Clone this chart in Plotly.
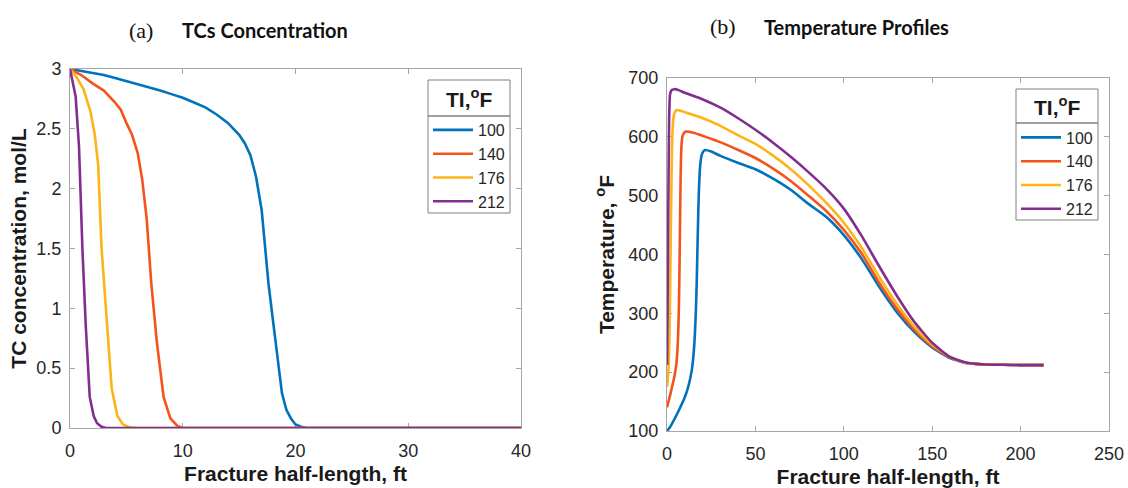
import plotly.graph_objects as go

# ---- (a) TC concentration along the fracture, one curve per injection temperature ----
conc_x_100 = [0, 1, 2, 3, 4, 5, 6, 7, 8, 9, 10, 11, 12, 13, 14, 15, 15.5, 16, 16.5, 17,
              17.3, 17.6, 18, 18.4, 18.8, 19.2, 19.6, 20, 20.5, 21, 22, 40]
conc_y_100 = [3, 2.985, 2.97, 2.95, 2.925, 2.9, 2.875, 2.85, 2.82, 2.79, 2.76, 2.72, 2.68, 2.62,
              2.55, 2.45, 2.38, 2.28, 2.1, 1.82, 1.5, 1.21, 0.9, 0.58, 0.29, 0.15, 0.08, 0.03,
              0.01, 0, 0, 0]
conc_x_140 = [0, 1, 2, 3, 4, 4.5, 5, 5.5, 6, 6.4, 6.8, 7.2, 7.7, 8.3, 8.9, 9.5, 10, 40]
conc_y_140 = [3, 2.95, 2.88, 2.82, 2.72, 2.66, 2.55, 2.45, 2.3, 2.08, 1.75, 1.22, 0.72, 0.26,
              0.08, 0.02, 0, 0]
conc_x_176 = [0, 0.6, 1.2, 1.8, 2.2, 2.5, 2.8, 3.2, 3.7, 4.2, 4.7, 5.3, 6, 40]
conc_y_176 = [3, 2.93, 2.83, 2.65, 2.45, 2.2, 1.5, 0.95, 0.33, 0.1, 0.03, 0.005, 0, 0]
conc_x_212 = [0, 0.5, 0.8, 1.1, 1.4, 1.75, 2.1, 2.4, 2.8, 3.2, 40]
conc_y_212 = [3, 2.77, 2.35, 1.5, 0.85, 0.26, 0.1, 0.04, 0.01, 0, 0]

# ---- (b) temperature profiles along the fracture ----
temp_x_100 = [0, 2, 4.5, 7, 10, 12, 14, 15, 15.8, 16.4, 16.8, 17.2, 17.6, 18, 18.5, 19, 19.6,
              20.5, 21.5, 25, 30, 40, 50, 60, 70, 80, 90, 100, 110, 120, 130, 140, 150, 160,
              170, 180, 190, 200, 213]
temp_y_100 = [100, 108, 122, 137, 157, 175, 203, 230, 266, 310, 351, 407, 460, 505, 540, 558,
              569, 575, 577.5, 575, 568, 556, 545, 529, 510, 486, 464, 433, 393, 345, 302, 268,
              242, 224, 215, 213, 212.5, 212, 212]
temp_x_140 = [0, 1, 2, 3, 4, 5, 5.6, 6.1, 6.5, 6.8, 7.1, 7.4, 7.7, 8.1, 8.7, 9.5, 10.6, 15, 20,
              30, 40, 50, 60, 70, 80, 90, 100, 110, 120, 130, 140, 150, 160, 170, 180, 190, 200,
              213]
temp_y_140 = [140, 152, 164, 177, 190, 207, 224, 250, 282, 322, 385, 460, 530, 580, 600, 606,
              609, 607, 602, 591, 578, 564, 546, 525, 500, 474, 442, 402, 352, 308, 272, 244,
              225, 215, 213, 212.5, 212, 212]
temp_x_176 = [0, 0.5, 1, 1.4, 1.8, 2.2, 2.6, 3, 3.5, 4.2, 5.5, 8, 10, 20, 30, 40, 50, 60, 70,
              80, 90, 100, 110, 120, 130, 140, 150, 160, 170, 180, 190, 200, 213]
temp_y_176 = [175, 190, 215, 260, 350, 450, 540, 600, 628, 640, 645.6, 644, 642, 632, 619, 603,
              588, 568, 545, 518, 488, 454, 412, 362, 316, 277, 247, 226, 215, 213, 212.5, 212,
              212]
temp_x_212 = [0, 0.3, 0.6, 0.9, 1.2, 1.7, 2.5, 4.1, 7, 10, 20, 30, 40, 50, 60, 70, 80, 90, 100,
              110, 120, 130, 140, 150, 160, 170, 180, 190, 200, 213]
temp_y_212 = [212, 300, 420, 540, 630, 672, 679, 681, 679, 675, 664, 650, 632, 612, 590, 566,
              540, 512, 478, 432, 380, 330, 285, 250, 226, 216, 213, 212.5, 212, 212]

series_names = ["100", "140", "176", "212"]
series_colors = ["#0072BD", "#F4541C", "#FDB417", "#842D91"]
legend_heading = "<b>TI,<sup>o</sup>F</b>"

conc_x = [conc_x_100, conc_x_140, conc_x_176, conc_x_212]
conc_y = [conc_y_100, conc_y_140, conc_y_176, conc_y_212]
temp_x = [temp_x_100, temp_x_140, temp_x_176, temp_x_212]
temp_y = [temp_y_100, temp_y_140, temp_y_176, temp_y_212]

W, H = 1128, 488
AXIS_GREY = "#A6A6A6"
FRAME_GREY = "#808080"
TICK_TEXT = "#262626"
SANS = "Liberation Sans, Arial, sans-serif"

fig = go.Figure()

for name, color, xs, ys in zip(series_names, series_colors, conc_x, conc_y):
    fig.add_trace(go.Scatter(x=xs, y=ys, mode="lines", name=name,
                             line=dict(color=color, width=2.6),
                             xaxis="x", yaxis="y", legend="legend"))

for name, color, xs, ys in zip(series_names, series_colors, temp_x, temp_y):
    fig.add_trace(go.Scatter(x=xs, y=ys, mode="lines", name=name,
                             line=dict(color=color, width=2.6, shape="spline", smoothing=0.5),
                             xaxis="x2", yaxis="y2", legend="legend2"))


def axis_style(**kw):
    base = dict(
        showline=True, linecolor=AXIS_GREY, linewidth=1, mirror="ticks",
        ticks="inside", ticklen=5, tickcolor=AXIS_GREY, tickwidth=1,
        showgrid=False, zeroline=False, layer="below traces", automargin=False,
        tickfont=dict(family=SANS, size=18, color=TICK_TEXT),
    )
    base.update(kw)
    return base


title_font = dict(family=SANS, size=21, color="#1a1a1a")

# Legend frames in pixels: (left, right, top, rule under heading, bottom)
LEGEND_FRAMES = [(428, 510, 80, 116, 213), (1016, 1098, 89, 123, 220)]


def legend_style(x_px, y_px):
    return dict(x=x_px / W, y=1 - y_px / H, xanchor="left", yanchor="top",
                bgcolor="rgba(255,255,255,0)", borderwidth=0,
                font=dict(family=SANS, size=16, color=TICK_TEXT),
                itemwidth=40, tracegroupgap=0)


fig.update_layout(
    template="none",
    width=W, height=H, autosize=False,
    margin=dict(l=0, r=0, t=0, b=0, autoexpand=False),
    paper_bgcolor="white", plot_bgcolor="white",
    xaxis=axis_style(domain=[70 / W, 521 / W], range=[0, 40], tickvals=[0, 10, 20, 30, 40],
                     anchor="y", ticklabelstandoff=6,
                     title=dict(text="<b>Fracture half-length, ft</b>", font=title_font,
                                standoff=6)),
    yaxis=axis_style(domain=[1 - 428 / H, 1 - 69 / H], range=[0, 3],
                     tickvals=[0, 0.5, 1, 1.5, 2, 2.5, 3],
                     ticktext=["0", "0.5", "1", "1.5", "2", "2.5", "3"],
                     anchor="x", ticklabelstandoff=4,
                     title=dict(text="<b>TC concentration, mol/L</b>", font=title_font,
                                standoff=4)),
    xaxis2=axis_style(domain=[667 / W, 1109 / W], range=[0, 250],
                      tickvals=[0, 50, 100, 150, 200, 250], anchor="y2", ticklabelstandoff=6,
                      title=dict(text="<b>Fracture half-length, ft</b>", font=title_font,
                                 standoff=6)),
    yaxis2=axis_style(domain=[1 - 431 / H, 1 - 78 / H], range=[100, 700],
                      tickvals=[100, 200, 300, 400, 500, 600, 700], anchor="x2",
                      ticklabelstandoff=4,
                      title=dict(text="<b>Temperature, <sup>o</sup>F</b>", font=title_font,
                                 standoff=8)),
    legend=legend_style(428, 113),
    legend2=legend_style(1016, 120.5),
)

for x0, x1, top, rule, bottom in LEGEND_FRAMES:
    # outer frame of the legend
    fig.add_shape(type="rect", xref="paper", yref="paper", layer="above",
                  x0=x0 / W, x1=x1 / W, y0=1 - bottom / H, y1=1 - top / H,
                  line=dict(color=FRAME_GREY, width=1), fillcolor="rgba(255,255,255,0)")
    # rule between the heading and the entries
    fig.add_shape(type="rect", xref="paper", yref="paper", layer="above",
                  x0=x0 / W, x1=x1 / W, y0=1 - (rule + 0.75) / H, y1=1 - (rule - 0.75) / H,
                  line=dict(width=0), fillcolor=FRAME_GREY)
    fig.add_annotation(x=(x0 + x1) / 2 / W, y=1 - (top + rule) / 2 / H, xref="paper",
                       yref="paper", text=legend_heading, showarrow=False,
                       xanchor="center", yanchor="middle",
                       font=dict(family=SANS, size=21, color="#1a1a1a"))

# Panel headings
heading_serif = dict(family="Liberation Serif, DejaVu Serif, serif", size=22, color="#111111")
heading_sans = dict(family="Lato, Liberation Sans, sans-serif", size=20, color="#111111")
fig.add_annotation(x=141 / W, y=1 - 30 / H, xref="paper", yref="paper", text="(a)",
                   showarrow=False, xanchor="center", yanchor="middle", font=heading_serif)
fig.add_annotation(x=180 / W, y=1 - 30 / H, xref="paper", yref="paper",
                   text="<b>TCs Concentration</b>", showarrow=False, xanchor="left",
                   yanchor="middle", font=heading_sans)
fig.add_annotation(x=723 / W, y=1 - 27 / H, xref="paper", yref="paper", text="(b)",
                   showarrow=False, xanchor="center", yanchor="middle", font=heading_serif)
fig.add_annotation(x=762 / W, y=1 - 27 / H, xref="paper", yref="paper",
                   text="<b>Temperature Profiles</b>", showarrow=False, xanchor="left",
                   yanchor="middle", font=heading_sans)

fig.write_html("out.html")
